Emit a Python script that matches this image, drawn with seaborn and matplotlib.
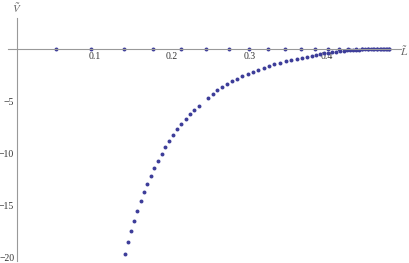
import matplotlib
matplotlib.use('Agg')
import matplotlib.pyplot as plt
from matplotlib.ticker import MultipleLocator, FixedLocator
import pandas as pd
import seaborn as sns

# branch lying on the axis (V = 0)
axis_L = [0.050, 0.095, 0.138, 0.175, 0.212, 0.244, 0.274, 0.299, 0.324, 0.346,
          0.366, 0.385, 0.401, 0.415, 0.427, 0.437, 0.445, 0.453, 0.459, 0.465,
          0.470, 0.474, 0.477, 0.480]
axis_V = [0.0] * len(axis_L)

# curved branch
curve_L = [0.1394, 0.1432, 0.1471, 0.1510, 0.1552, 0.1595, 0.1635, 0.1681, 0.1725, 0.1772,
           0.1819, 0.1867, 0.1914, 0.1965, 0.2017, 0.2068, 0.2120, 0.2177, 0.2232, 0.2288,
           0.2345, 0.2465, 0.2523, 0.2585, 0.2649, 0.2714, 0.2778, 0.2843, 0.2907, 0.2977,
           0.3045, 0.3114, 0.3183, 0.3252, 0.3320, 0.3394, 0.3467, 0.3539, 0.3609, 0.3674,
           0.3738, 0.3803, 0.3858, 0.3910, 0.3961, 0.401, 0.406, 0.412, 0.417, 0.422,
           0.426, 0.430, 0.434, 0.437, 0.441, 0.445, 0.449, 0.453, 0.457, 0.461,
           0.465, 0.468, 0.472, 0.476, 0.480]
curve_V = [-19.59, -18.50, -17.44, -16.43, -15.50, -14.56, -13.70, -12.92, -12.12, -11.42,
           -10.69, -10.02, -9.38, -8.80, -8.23, -7.70, -7.18, -6.70, -6.25, -5.84,
           -5.43, -4.66, -4.26, -3.95, -3.64, -3.35, -3.09, -2.87, -2.61, -2.36,
           -2.17, -1.98, -1.79, -1.63, -1.44, -1.31, -1.18, -1.05, -0.93, -0.83,
           -0.74, -0.64, -0.55, -0.48, -0.41, -0.35, -0.30, -0.26, -0.21, -0.18,
           -0.14, -0.11, -0.09, -0.07, -0.05, -0.04, -0.03, -0.02, -0.015, -0.01,
           -0.01, -0.005, -0.005, 0.0, 0.0]

x_major = [0.1, 0.2, 0.3, 0.4]
y_major = [-20, -15, -10, -5]

sns.set_style('white')
plt.rcParams['font.family'] = ['Liberation Serif', 'DejaVu Serif']
plt.rcParams['mathtext.fontset'] = 'stix'

df_axis = pd.DataFrame({'L': axis_L, 'V': axis_V})
df_curve = pd.DataFrame({'L': curve_L, 'V': curve_V})

fig = plt.figure(figsize=(4.09, 2.63), dpi=100)
ax = fig.add_axes([0.0188, 0.0072, 0.9606, 0.9257])
col = '#3d3d99'
sns.scatterplot(data=df_axis, x='L', y='V', ax=ax, color=col, s=8, linewidth=0)
sns.scatterplot(data=df_curve, x='L', y='V', ax=ax, color=col, s=8, linewidth=0)

ax.set_xlim(-0.012, 0.495)
ax.set_ylim(-20.3, 3.0)
for side in ['top', 'right']:
    ax.spines[side].set_visible(False)
ax.spines['left'].set_position(('data', 0))
ax.spines['bottom'].set_position(('data', 0))
for side in ['left', 'bottom']:
    ax.spines[side].set_color('#999999')
    ax.spines[side].set_linewidth(0.8)

ax.xaxis.set_major_locator(FixedLocator(x_major))
ax.yaxis.set_major_locator(FixedLocator(y_major))
ax.xaxis.set_minor_locator(MultipleLocator(0.02))
ax.yaxis.set_minor_locator(MultipleLocator(1))
ax.set_xticklabels(['0.1', '0.2', '0.3', '0.4'])
ax.set_yticklabels(['\u221220', '\u221215', '\u221210', '\u22125'])
ax.tick_params(which='major', direction='in', length=3.5, width=0.6, color='#999999',
               labelsize=7, pad=2, labelcolor='#333333')
ax.tick_params(which='minor', direction='in', length=2, width=0.5, color='#999999')
ax.set_xlabel('')
ax.set_ylabel('')
ax.text(0.5, -0.2, r'$\tilde{L}$', fontsize=8, color='#666666', ha='center', va='center',
        transform=ax.transData, clip_on=False)
ax.text(0.0, 3.9, r'$\tilde{V}$', fontsize=8, color='#666666', ha='center', va='center',
        transform=ax.transData, clip_on=False)
ax.patch.set_visible(False)

fig.savefig('out.png', dpi=100)
